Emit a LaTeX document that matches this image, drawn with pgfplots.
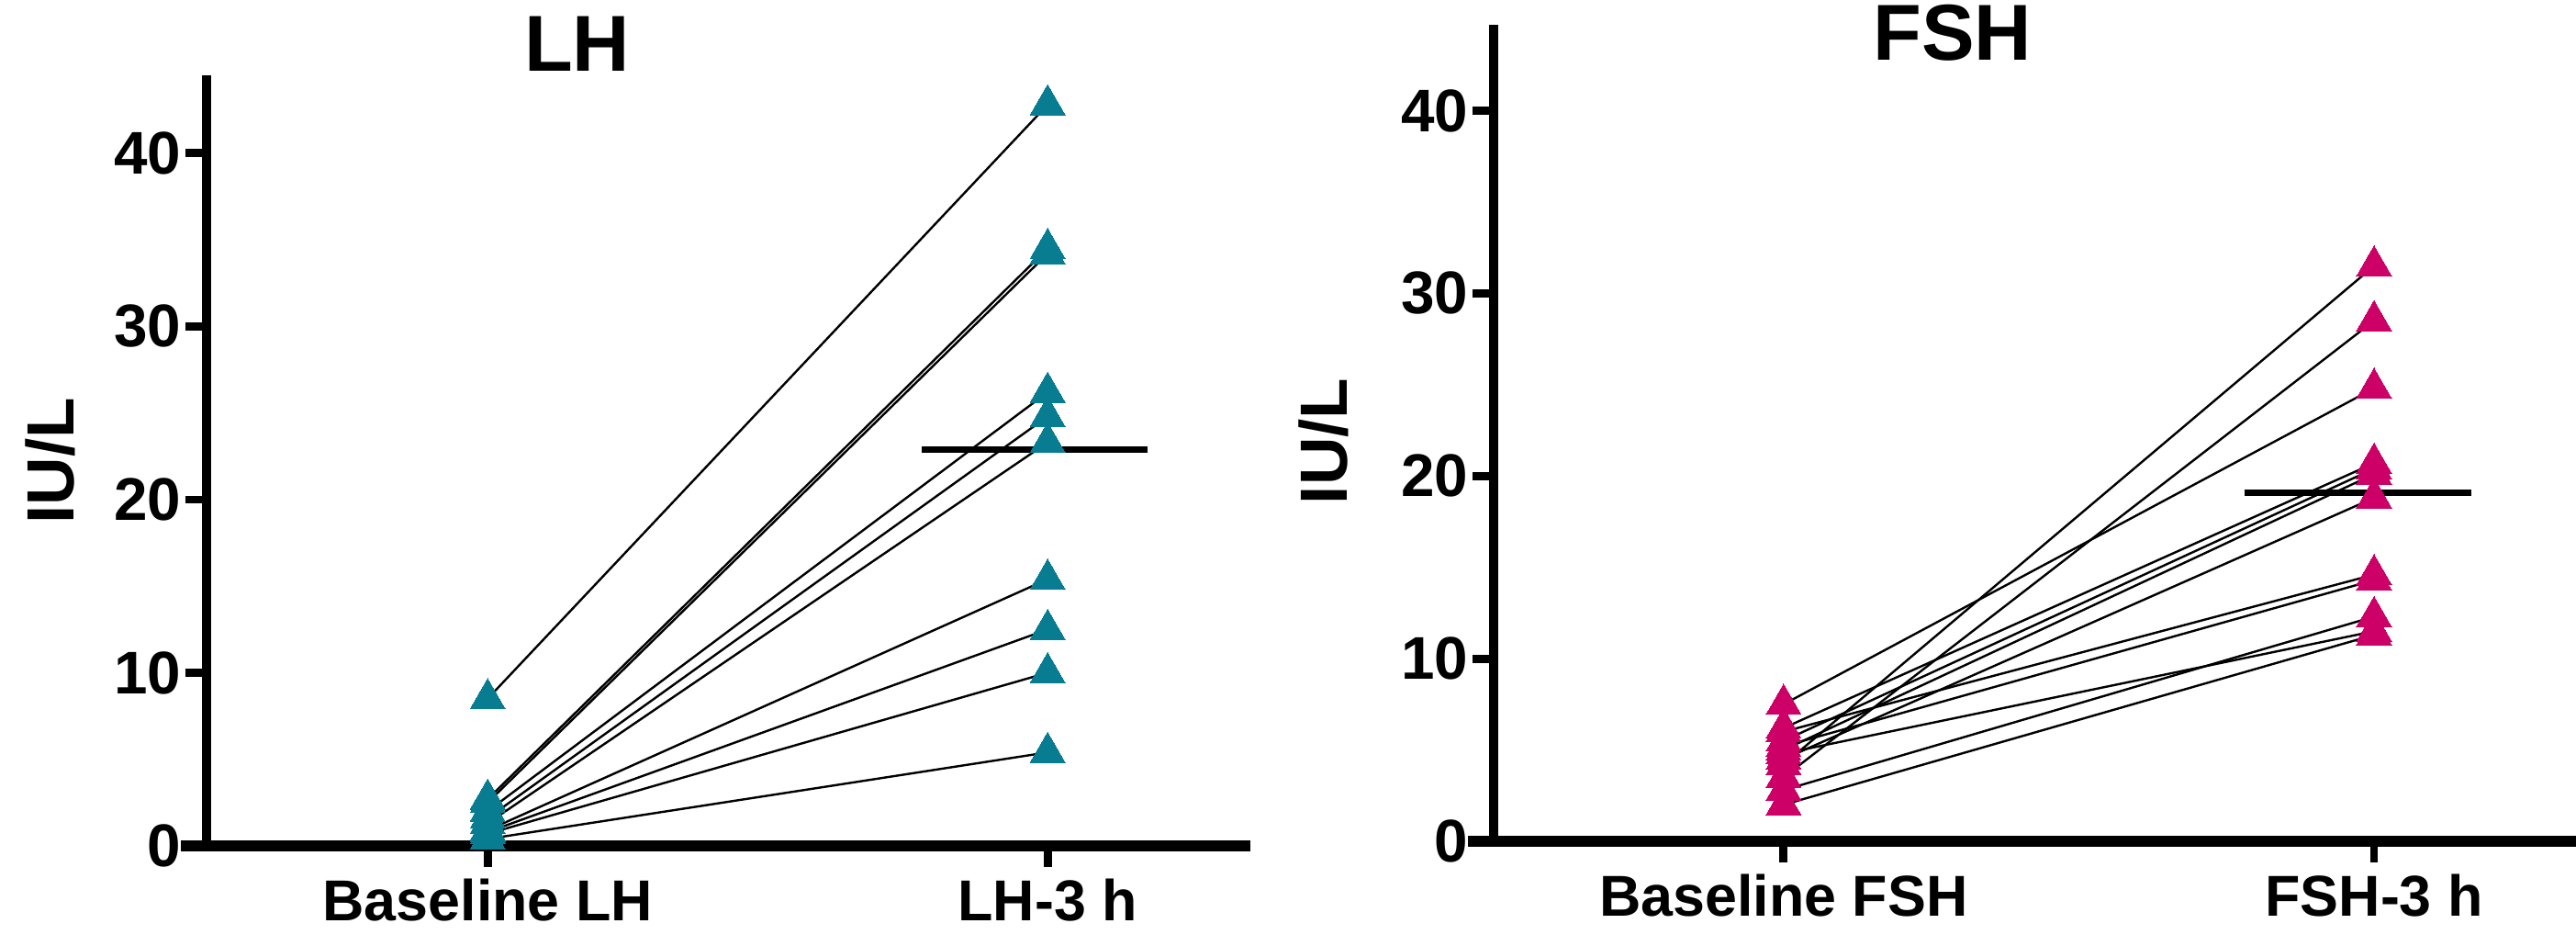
\documentclass[border=0pt]{standalone}
\usepackage{fontspec}
\setmainfont{Liberation Sans}
\usepackage{pgfplots}
\pgfplotsset{compat=1.18}
\definecolor{lhteal}{RGB}{8,125,145}
\definecolor{fshmag}{RGB}{204,0,102}
\pgfplotsset{
  myax/.style={
    scale only axis,
    axis x line=bottom, axis y line=left,
    axis line style={line width=2.6pt,-},
    x axis line style={shorten <=-7pt, line width=3pt},
    tick align=outside,
    major tick length=5.75pt,
    tick style={line width=2.2pt, black},
    ymin=0,
    ytick={0,10,20,30,40},
    yticklabels={0,10,20,30,40},
    xtick={0,1},
    clip=false,
    yticklabel style={font=\fontsize{16.4}{18}\selectfont\bfseries, inner sep=1pt},
    xticklabel style={font=\fontsize{15.7}{18}\selectfont\bfseries, inner sep=1pt, yshift=-2pt},
    ylabel={IU/L},
    ylabel style={font=\fontsize{18.2}{20}\selectfont\bfseries, anchor=center, inner sep=0pt},
    title style={font=\fontsize{21.6}{24}\selectfont\bfseries, anchor=center, inner sep=0pt},
  },
  subj/.style={black, line width=0.6pt, mark=none},
  meanl/.style={black, line width=1.7pt, mark=none},
  tri/.style={only marks, mark=triangle*, mark size=5.5pt, color=#1, mark options={solid, draw=#1, fill=#1, line width=0pt}},
}
\begin{document}
\begin{tikzpicture}
\useasboundingbox (0,0) rectangle (701.5pt,257.25pt);
% ---------- LH ----------
\begin{axis}[myax,
  at={(56.25pt,27pt)}, anchor=south west,
  width=284.25pt, height=209.75pt,
  xmin=-0.502, xmax=1.362, ymax=44.5,
  xticklabels={Baseline LH, LH-3 h},
  title={LH}, title style={at={(0.355,1.012)}},
  ylabel style={at={(-0.150,0.50)}},
]
\addplot[subj] coordinates {(0,8.5) (1,42.8)};
\addplot[subj] coordinates {(0,2.7) (1,34.5)};
\addplot[subj] coordinates {(0,2.5) (1,34.2)};
\addplot[subj] coordinates {(0,2.0) (1,26.2)};
\addplot[subj] coordinates {(0,1.6) (1,24.8)};
\addplot[subj] coordinates {(0,1.3) (1,23.3)};
\addplot[subj] coordinates {(0,0.9) (1,15.4)};
\addplot[subj] coordinates {(0,0.8) (1,12.5)};
\addplot[subj] coordinates {(0,0.7) (1,10.0)};
\addplot[subj] coordinates {(0,0.4) (1,5.4)};
\addplot[tri=lhteal]
 coordinates {(0,8.5) (0,2.7) (0,2.5) (0,2.0) (0,1.6) (0,1.3) (0,0.9) (0,0.8) (0,0.7) (0,0.4)
              (1,42.8) (1,34.5) (1,34.2) (1,26.2) (1,24.8) (1,23.3) (1,15.4) (1,12.5) (1,10.0) (1,5.4)};
\addplot[meanl] coordinates {(0.775,22.9) (1.179,22.9)};
\end{axis}
% ---------- FSH ----------
\begin{axis}[myax,
  at={(406.75pt,28.25pt)}, anchor=south west,
  width=294.75pt, height=222.25pt,
  xmin=-0.491, xmax=1.342, ymax=44.7,
  xticklabels={Baseline FSH, FSH-3 h},
  title={FSH}, title style={at={(0.424,0.963)}},
  ylabel style={at={(-0.157,0.49)}},
]
\addplot[subj] coordinates {(0,7.5) (1,24.8)};
\addplot[subj] coordinates {(0,4.2) (1,31.5)};
\addplot[subj] coordinates {(0,3.5) (1,28.5)};
\addplot[subj] coordinates {(0,6.2) (1,20.7)};
\addplot[subj] coordinates {(0,5.5) (1,20.4)};
\addplot[subj] coordinates {(0,5.0) (1,20.1)};
\addplot[subj] coordinates {(0,4.5) (1,18.8)};
\addplot[subj] coordinates {(0,6.0) (1,14.6)};
\addplot[subj] coordinates {(0,5.2) (1,14.3)};
\addplot[subj] coordinates {(0,2.8) (1,12.3)};
\addplot[subj] coordinates {(0,4.8) (1,11.5)};
\addplot[subj] coordinates {(0,2.0) (1,11.3)};
\addplot[tri=fshmag]
 coordinates {(0,7.5) (0,4.2) (0,3.5) (0,6.2) (0,5.5) (0,5.0) (0,4.5) (0,6.0) (0,5.2) (0,2.8) (0,4.8) (0,2.0)
              (1,24.8) (1,31.5) (1,28.5) (1,20.7) (1,20.4) (1,20.1) (1,18.8) (1,14.6) (1,14.3) (1,12.3) (1,11.5) (1,11.3)};
\addplot[meanl] coordinates {(0.78,19.07) (1.165,19.07)};
\end{axis}
\end{tikzpicture}
\end{document}
